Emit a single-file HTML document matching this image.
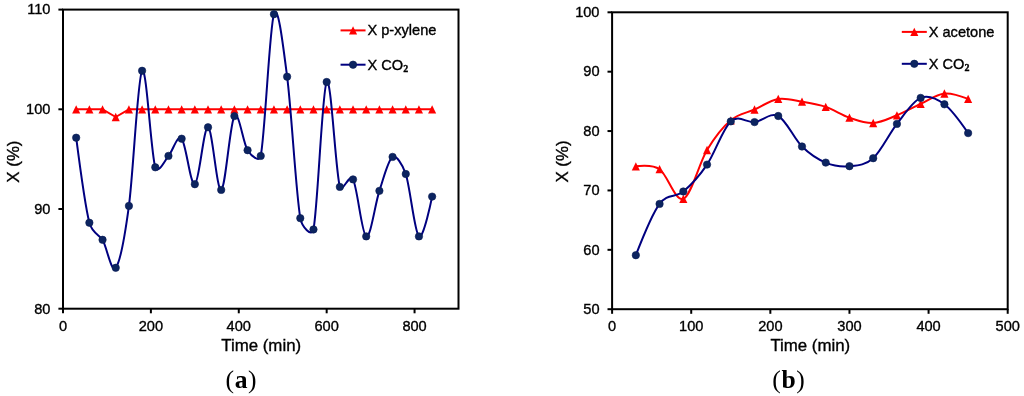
<!DOCTYPE html>
<html><head><meta charset="utf-8"><title>Conversion vs time</title>
<style>
html,body{margin:0;padding:0;background:#fff;}
body{width:1024px;height:396px;overflow:hidden;font-family:"Liberation Sans",sans-serif;}
svg{display:block;will-change:transform;}
text{font-family:"Liberation Sans",sans-serif;fill:#000;stroke:#000;stroke-width:.35px;}
.cap{stroke:none;letter-spacing:.6px;}
.tk{font-size:14.6px;}
.lg{font-size:14.6px;}
.at{font-size:16.85px;}
.cap{font-family:"Liberation Serif",serif;font-size:25.6px;}
</style></head><body>
<svg width="1024" height="396" viewBox="0 0 1024 396">
<rect width="100%" height="100%" fill="#fff"/>
<rect x="63.00" y="9.60" width="395.50" height="299.10" fill="none" stroke="#000" stroke-width="2"/>
<line x1="63.00" y1="308.70" x2="63.00" y2="313.30" stroke="#000" stroke-width="2"/>
<text x="63.00" y="330.60" text-anchor="middle" class="tk">0</text>
<line x1="150.89" y1="308.70" x2="150.89" y2="313.30" stroke="#000" stroke-width="2"/>
<text x="150.89" y="330.60" text-anchor="middle" class="tk">200</text>
<line x1="238.78" y1="308.70" x2="238.78" y2="313.30" stroke="#000" stroke-width="2"/>
<text x="238.78" y="330.60" text-anchor="middle" class="tk">400</text>
<line x1="326.67" y1="308.70" x2="326.67" y2="313.30" stroke="#000" stroke-width="2"/>
<text x="326.67" y="330.60" text-anchor="middle" class="tk">600</text>
<line x1="414.56" y1="308.70" x2="414.56" y2="313.30" stroke="#000" stroke-width="2"/>
<text x="414.56" y="330.60" text-anchor="middle" class="tk">800</text>
<line x1="58.40" y1="308.70" x2="63.00" y2="308.70" stroke="#000" stroke-width="2"/>
<text x="50.40" y="313.50" text-anchor="end" class="tk">80</text>
<line x1="58.40" y1="209.00" x2="63.00" y2="209.00" stroke="#000" stroke-width="2"/>
<text x="50.40" y="213.80" text-anchor="end" class="tk">90</text>
<line x1="58.40" y1="109.30" x2="63.00" y2="109.30" stroke="#000" stroke-width="2"/>
<text x="50.40" y="114.10" text-anchor="end" class="tk">100</text>
<line x1="58.40" y1="9.60" x2="63.00" y2="9.60" stroke="#000" stroke-width="2"/>
<text x="50.40" y="14.40" text-anchor="end" class="tk">110</text>
<polyline points="76.18,109.30 89.37,109.30 102.55,109.30 115.73,117.00 128.92,109.30 142.10,109.30 155.28,109.30 168.47,109.30 181.65,109.30 194.83,109.30 208.02,109.30 221.20,109.30 234.38,109.30 247.57,109.30 260.75,109.30 273.93,109.30 287.12,109.30 300.30,109.30 313.48,109.30 326.67,109.30 339.85,109.30 353.03,109.30 366.22,109.30 379.40,109.30 392.58,109.30 405.77,109.30 418.95,109.30 432.13,109.30" fill="none" stroke="#ff0000" stroke-width="2.0" stroke-linejoin="round"/>
<path d="M76.18 105.15 L80.23 113.45 L72.13 113.45 Z" fill="#ff0000"/>
<path d="M89.37 105.15 L93.42 113.45 L85.32 113.45 Z" fill="#ff0000"/>
<path d="M102.55 105.15 L106.60 113.45 L98.50 113.45 Z" fill="#ff0000"/>
<path d="M115.73 112.85 L119.78 121.15 L111.68 121.15 Z" fill="#ff0000"/>
<path d="M128.92 105.15 L132.97 113.45 L124.87 113.45 Z" fill="#ff0000"/>
<path d="M142.10 105.15 L146.15 113.45 L138.05 113.45 Z" fill="#ff0000"/>
<path d="M155.28 105.15 L159.33 113.45 L151.23 113.45 Z" fill="#ff0000"/>
<path d="M168.47 105.15 L172.52 113.45 L164.42 113.45 Z" fill="#ff0000"/>
<path d="M181.65 105.15 L185.70 113.45 L177.60 113.45 Z" fill="#ff0000"/>
<path d="M194.83 105.15 L198.88 113.45 L190.78 113.45 Z" fill="#ff0000"/>
<path d="M208.02 105.15 L212.07 113.45 L203.97 113.45 Z" fill="#ff0000"/>
<path d="M221.20 105.15 L225.25 113.45 L217.15 113.45 Z" fill="#ff0000"/>
<path d="M234.38 105.15 L238.43 113.45 L230.33 113.45 Z" fill="#ff0000"/>
<path d="M247.57 105.15 L251.62 113.45 L243.52 113.45 Z" fill="#ff0000"/>
<path d="M260.75 105.15 L264.80 113.45 L256.70 113.45 Z" fill="#ff0000"/>
<path d="M273.93 105.15 L277.98 113.45 L269.88 113.45 Z" fill="#ff0000"/>
<path d="M287.12 105.15 L291.17 113.45 L283.07 113.45 Z" fill="#ff0000"/>
<path d="M300.30 105.15 L304.35 113.45 L296.25 113.45 Z" fill="#ff0000"/>
<path d="M313.48 105.15 L317.53 113.45 L309.43 113.45 Z" fill="#ff0000"/>
<path d="M326.67 105.15 L330.72 113.45 L322.62 113.45 Z" fill="#ff0000"/>
<path d="M339.85 105.15 L343.90 113.45 L335.80 113.45 Z" fill="#ff0000"/>
<path d="M353.03 105.15 L357.08 113.45 L348.98 113.45 Z" fill="#ff0000"/>
<path d="M366.22 105.15 L370.27 113.45 L362.17 113.45 Z" fill="#ff0000"/>
<path d="M379.40 105.15 L383.45 113.45 L375.35 113.45 Z" fill="#ff0000"/>
<path d="M392.58 105.15 L396.63 113.45 L388.53 113.45 Z" fill="#ff0000"/>
<path d="M405.77 105.15 L409.82 113.45 L401.72 113.45 Z" fill="#ff0000"/>
<path d="M418.95 105.15 L423.00 113.45 L414.90 113.45 Z" fill="#ff0000"/>
<path d="M432.13 105.15 L436.18 113.45 L428.08 113.45 Z" fill="#ff0000"/>
<path d="M76.18 137.70 C76.18 137.70 84.97 205.73 89.37 222.75 C92.06 233.18 99.86 235.20 102.55 239.80 C106.94 247.31 111.34 273.45 115.73 267.80 C119.93 262.40 124.72 237.26 128.92 205.90 C133.31 173.07 137.71 77.23 142.10 70.80 C146.49 64.37 150.89 153.12 155.28 167.30 C157.86 175.62 165.89 158.70 168.47 155.90 C172.86 151.13 177.26 133.98 181.65 138.70 C186.04 143.42 190.44 186.10 194.83 184.20 C199.23 182.30 203.62 126.35 208.02 127.30 C212.41 128.25 216.81 191.77 221.20 189.90 C225.59 188.03 229.99 122.72 234.38 116.10 C238.78 109.48 243.17 143.57 247.57 150.20 C251.53 156.19 259.38 162.95 260.75 155.90 C265.14 133.23 269.54 27.40 273.93 14.20 C278.03 1.90 283.02 45.03 287.12 76.70 C291.51 110.69 295.91 192.69 300.30 218.15 C301.78 226.71 311.83 237.97 313.48 229.45 C317.88 206.76 322.27 89.09 326.67 82.00 C331.06 74.91 335.46 170.67 339.85 186.90 C341.83 194.22 349.47 172.71 353.03 179.40 C357.43 187.65 361.82 234.49 366.22 236.40 C370.61 238.31 375.01 204.10 379.40 190.85 C383.79 177.60 388.19 159.71 392.58 156.90 C395.98 154.73 402.37 163.75 405.77 174.00 C410.16 187.25 414.56 232.63 418.95 236.40 C423.34 240.17 432.13 196.60 432.13 196.60" fill="none" stroke="#000080" stroke-width="2.0" stroke-linejoin="round" stroke-linecap="round"/>
<circle cx="76.18" cy="137.70" r="3.70" fill="#0c2460" stroke="#061a52" stroke-width="0.6"/>
<circle cx="89.37" cy="222.75" r="3.70" fill="#0c2460" stroke="#061a52" stroke-width="0.6"/>
<circle cx="102.55" cy="239.80" r="3.70" fill="#0c2460" stroke="#061a52" stroke-width="0.6"/>
<circle cx="115.73" cy="267.80" r="3.70" fill="#0c2460" stroke="#061a52" stroke-width="0.6"/>
<circle cx="128.92" cy="205.90" r="3.70" fill="#0c2460" stroke="#061a52" stroke-width="0.6"/>
<circle cx="142.10" cy="70.80" r="3.70" fill="#0c2460" stroke="#061a52" stroke-width="0.6"/>
<circle cx="155.28" cy="167.30" r="3.70" fill="#0c2460" stroke="#061a52" stroke-width="0.6"/>
<circle cx="168.47" cy="155.90" r="3.70" fill="#0c2460" stroke="#061a52" stroke-width="0.6"/>
<circle cx="181.65" cy="138.70" r="3.70" fill="#0c2460" stroke="#061a52" stroke-width="0.6"/>
<circle cx="194.83" cy="184.20" r="3.70" fill="#0c2460" stroke="#061a52" stroke-width="0.6"/>
<circle cx="208.02" cy="127.30" r="3.70" fill="#0c2460" stroke="#061a52" stroke-width="0.6"/>
<circle cx="221.20" cy="189.90" r="3.70" fill="#0c2460" stroke="#061a52" stroke-width="0.6"/>
<circle cx="234.38" cy="116.10" r="3.70" fill="#0c2460" stroke="#061a52" stroke-width="0.6"/>
<circle cx="247.57" cy="150.20" r="3.70" fill="#0c2460" stroke="#061a52" stroke-width="0.6"/>
<circle cx="260.75" cy="155.90" r="3.70" fill="#0c2460" stroke="#061a52" stroke-width="0.6"/>
<circle cx="273.93" cy="14.20" r="3.70" fill="#0c2460" stroke="#061a52" stroke-width="0.6"/>
<circle cx="287.12" cy="76.70" r="3.70" fill="#0c2460" stroke="#061a52" stroke-width="0.6"/>
<circle cx="300.30" cy="218.15" r="3.70" fill="#0c2460" stroke="#061a52" stroke-width="0.6"/>
<circle cx="313.48" cy="229.45" r="3.70" fill="#0c2460" stroke="#061a52" stroke-width="0.6"/>
<circle cx="326.67" cy="82.00" r="3.70" fill="#0c2460" stroke="#061a52" stroke-width="0.6"/>
<circle cx="339.85" cy="186.90" r="3.70" fill="#0c2460" stroke="#061a52" stroke-width="0.6"/>
<circle cx="353.03" cy="179.40" r="3.70" fill="#0c2460" stroke="#061a52" stroke-width="0.6"/>
<circle cx="366.22" cy="236.40" r="3.70" fill="#0c2460" stroke="#061a52" stroke-width="0.6"/>
<circle cx="379.40" cy="190.85" r="3.70" fill="#0c2460" stroke="#061a52" stroke-width="0.6"/>
<circle cx="392.58" cy="156.90" r="3.70" fill="#0c2460" stroke="#061a52" stroke-width="0.6"/>
<circle cx="405.77" cy="174.00" r="3.70" fill="#0c2460" stroke="#061a52" stroke-width="0.6"/>
<circle cx="418.95" cy="236.40" r="3.70" fill="#0c2460" stroke="#061a52" stroke-width="0.6"/>
<circle cx="432.13" cy="196.60" r="3.70" fill="#0c2460" stroke="#061a52" stroke-width="0.6"/>
<line x1="340.55" y1="30.40" x2="365.55" y2="30.40" stroke="#ff0000" stroke-width="2.0"/>
<path d="M353.05 26.25 L357.10 34.55 L349.00 34.55 Z" fill="#ff0000"/>
<text x="367.45" y="35.40" class="lg">X p-xylene</text>
<line x1="340.55" y1="64.70" x2="365.55" y2="64.70" stroke="#000080" stroke-width="2.0"/>
<circle cx="353.05" cy="64.70" r="3.70" fill="#0c2460" stroke="#061a52" stroke-width="0.6"/>
<text x="367.45" y="69.90" class="lg">X CO<tspan dy="2.0" font-size="10" font-family="Liberation Serif" font-weight="bold">2</tspan></text>
<text x="261.20" y="350.80" text-anchor="middle" class="at">Time (min)</text>
<text transform="translate(18.90 161.60) rotate(-90)" text-anchor="middle" class="at">X (%)</text>
<text x="241.4" y="388.0" text-anchor="middle" class="cap">(<tspan font-weight="bold">a</tspan>)</text>
<rect x="612.10" y="12.30" width="395.60" height="296.90" fill="none" stroke="#000" stroke-width="2"/>
<line x1="612.10" y1="309.20" x2="612.10" y2="313.80" stroke="#000" stroke-width="2"/>
<text x="612.10" y="331.10" text-anchor="middle" class="tk">0</text>
<line x1="691.22" y1="309.20" x2="691.22" y2="313.80" stroke="#000" stroke-width="2"/>
<text x="691.22" y="331.10" text-anchor="middle" class="tk">100</text>
<line x1="770.34" y1="309.20" x2="770.34" y2="313.80" stroke="#000" stroke-width="2"/>
<text x="770.34" y="331.10" text-anchor="middle" class="tk">200</text>
<line x1="849.46" y1="309.20" x2="849.46" y2="313.80" stroke="#000" stroke-width="2"/>
<text x="849.46" y="331.10" text-anchor="middle" class="tk">300</text>
<line x1="928.58" y1="309.20" x2="928.58" y2="313.80" stroke="#000" stroke-width="2"/>
<text x="928.58" y="331.10" text-anchor="middle" class="tk">400</text>
<line x1="1007.70" y1="309.20" x2="1007.70" y2="313.80" stroke="#000" stroke-width="2"/>
<text x="1007.70" y="331.10" text-anchor="middle" class="tk">500</text>
<line x1="607.50" y1="309.20" x2="612.10" y2="309.20" stroke="#000" stroke-width="2"/>
<text x="599.50" y="314.00" text-anchor="end" class="tk">50</text>
<line x1="607.50" y1="249.82" x2="612.10" y2="249.82" stroke="#000" stroke-width="2"/>
<text x="599.50" y="254.62" text-anchor="end" class="tk">60</text>
<line x1="607.50" y1="190.44" x2="612.10" y2="190.44" stroke="#000" stroke-width="2"/>
<text x="599.50" y="195.24" text-anchor="end" class="tk">70</text>
<line x1="607.50" y1="131.06" x2="612.10" y2="131.06" stroke="#000" stroke-width="2"/>
<text x="599.50" y="135.86" text-anchor="end" class="tk">80</text>
<line x1="607.50" y1="71.68" x2="612.10" y2="71.68" stroke="#000" stroke-width="2"/>
<text x="599.50" y="76.48" text-anchor="end" class="tk">90</text>
<line x1="607.50" y1="12.30" x2="612.10" y2="12.30" stroke="#000" stroke-width="2"/>
<text x="599.50" y="17.10" text-anchor="end" class="tk">100</text>
<path d="M635.84 166.30 C635.84 166.30 651.66 163.77 659.57 169.20 C667.48 174.63 675.40 202.10 683.31 198.90 C691.22 195.70 699.13 163.10 707.04 150.00 C714.96 136.90 722.87 127.05 730.78 120.30 C738.69 113.55 746.60 113.07 754.52 109.50 C762.43 105.93 770.34 100.20 778.25 98.90 C786.16 97.60 794.08 100.37 801.99 101.70 C809.90 103.03 817.81 104.23 825.72 106.90 C833.64 109.57 841.55 115.02 849.46 117.70 C857.37 120.38 865.28 123.40 873.20 123.00 C881.11 122.60 889.02 118.50 896.93 115.30 C904.84 112.10 912.76 107.43 920.67 103.80 C928.58 100.17 936.49 94.32 944.40 93.50 C952.32 92.68 968.14 98.90 968.14 98.90" fill="none" stroke="#ff0000" stroke-width="2.0" stroke-linejoin="round" stroke-linecap="round"/>
<path d="M635.84 162.15 L639.89 170.45 L631.79 170.45 Z" fill="#ff0000"/>
<path d="M659.57 165.05 L663.62 173.35 L655.52 173.35 Z" fill="#ff0000"/>
<path d="M683.31 194.75 L687.36 203.05 L679.26 203.05 Z" fill="#ff0000"/>
<path d="M707.04 145.85 L711.09 154.15 L702.99 154.15 Z" fill="#ff0000"/>
<path d="M730.78 116.15 L734.83 124.45 L726.73 124.45 Z" fill="#ff0000"/>
<path d="M754.52 105.35 L758.57 113.65 L750.47 113.65 Z" fill="#ff0000"/>
<path d="M778.25 94.75 L782.30 103.05 L774.20 103.05 Z" fill="#ff0000"/>
<path d="M801.99 97.55 L806.04 105.85 L797.94 105.85 Z" fill="#ff0000"/>
<path d="M825.72 102.75 L829.77 111.05 L821.67 111.05 Z" fill="#ff0000"/>
<path d="M849.46 113.55 L853.51 121.85 L845.41 121.85 Z" fill="#ff0000"/>
<path d="M873.20 118.85 L877.25 127.15 L869.15 127.15 Z" fill="#ff0000"/>
<path d="M896.93 111.15 L900.98 119.45 L892.88 119.45 Z" fill="#ff0000"/>
<path d="M920.67 99.65 L924.72 107.95 L916.62 107.95 Z" fill="#ff0000"/>
<path d="M944.40 89.35 L948.45 97.65 L940.35 97.65 Z" fill="#ff0000"/>
<path d="M968.14 94.75 L972.19 103.05 L964.09 103.05 Z" fill="#ff0000"/>
<path d="M635.84 255.20 C635.84 255.20 651.66 214.52 659.57 203.90 C667.48 193.28 675.40 198.05 683.31 191.50 C691.22 184.95 699.13 176.28 707.04 164.60 C714.96 152.92 722.87 128.48 730.78 121.40 C738.69 114.32 746.60 123.00 754.52 122.10 C762.43 121.20 770.34 111.93 778.25 116.00 C786.16 120.07 794.08 138.73 801.99 146.50 C809.90 154.27 817.81 159.32 825.72 162.60 C833.64 165.88 841.55 166.93 849.46 166.20 C857.37 165.47 865.28 165.25 873.20 158.20 C881.11 151.15 889.02 133.95 896.93 123.90 C904.84 113.85 912.76 101.17 920.67 97.90 C928.58 94.63 936.49 98.43 944.40 104.30 C952.32 110.17 968.14 133.10 968.14 133.10" fill="none" stroke="#000080" stroke-width="2.0" stroke-linejoin="round" stroke-linecap="round"/>
<circle cx="635.84" cy="255.20" r="3.70" fill="#0c2460" stroke="#061a52" stroke-width="0.6"/>
<circle cx="659.57" cy="203.90" r="3.70" fill="#0c2460" stroke="#061a52" stroke-width="0.6"/>
<circle cx="683.31" cy="191.50" r="3.70" fill="#0c2460" stroke="#061a52" stroke-width="0.6"/>
<circle cx="707.04" cy="164.60" r="3.70" fill="#0c2460" stroke="#061a52" stroke-width="0.6"/>
<circle cx="730.78" cy="121.40" r="3.70" fill="#0c2460" stroke="#061a52" stroke-width="0.6"/>
<circle cx="754.52" cy="122.10" r="3.70" fill="#0c2460" stroke="#061a52" stroke-width="0.6"/>
<circle cx="778.25" cy="116.00" r="3.70" fill="#0c2460" stroke="#061a52" stroke-width="0.6"/>
<circle cx="801.99" cy="146.50" r="3.70" fill="#0c2460" stroke="#061a52" stroke-width="0.6"/>
<circle cx="825.72" cy="162.60" r="3.70" fill="#0c2460" stroke="#061a52" stroke-width="0.6"/>
<circle cx="849.46" cy="166.20" r="3.70" fill="#0c2460" stroke="#061a52" stroke-width="0.6"/>
<circle cx="873.20" cy="158.20" r="3.70" fill="#0c2460" stroke="#061a52" stroke-width="0.6"/>
<circle cx="896.93" cy="123.90" r="3.70" fill="#0c2460" stroke="#061a52" stroke-width="0.6"/>
<circle cx="920.67" cy="97.90" r="3.70" fill="#0c2460" stroke="#061a52" stroke-width="0.6"/>
<circle cx="944.40" cy="104.30" r="3.70" fill="#0c2460" stroke="#061a52" stroke-width="0.6"/>
<circle cx="968.14" cy="133.10" r="3.70" fill="#0c2460" stroke="#061a52" stroke-width="0.6"/>
<line x1="901.80" y1="31.90" x2="926.80" y2="31.90" stroke="#ff0000" stroke-width="2.0"/>
<path d="M914.30 27.75 L918.35 36.05 L910.25 36.05 Z" fill="#ff0000"/>
<text x="928.70" y="36.90" class="lg">X acetone</text>
<line x1="901.80" y1="63.80" x2="926.80" y2="63.80" stroke="#000080" stroke-width="2.0"/>
<circle cx="914.30" cy="63.80" r="3.70" fill="#0c2460" stroke="#061a52" stroke-width="0.6"/>
<text x="928.70" y="69.00" class="lg">X CO<tspan dy="2.0" font-size="10" font-family="Liberation Serif" font-weight="bold">2</tspan></text>
<text x="810.30" y="350.80" text-anchor="middle" class="at">Time (min)</text>
<text transform="translate(568.00 161.50) rotate(-90)" text-anchor="middle" class="at">X (%)</text>
<text x="788.9" y="388.0" text-anchor="middle" class="cap">(<tspan font-weight="bold">b</tspan>)</text>
</svg>
</body></html>
